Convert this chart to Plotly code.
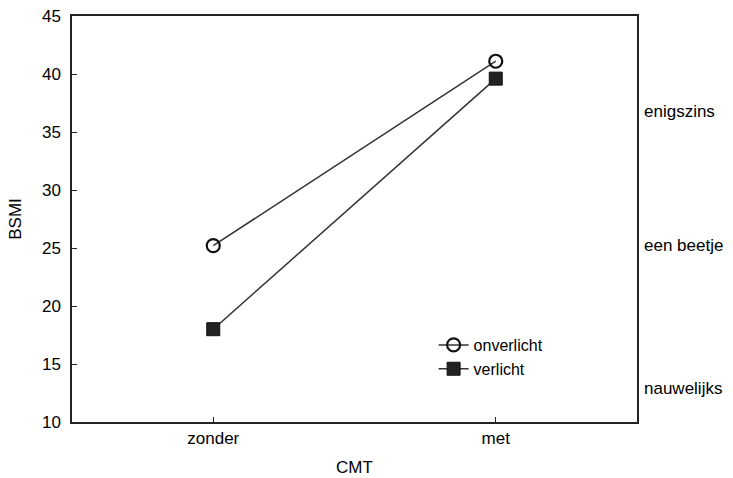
import plotly.graph_objects as go

categories = ["zonder", "met"]
onverlicht = [25.2, 41.1]
verlicht = [18.0, 39.6]
right_labels = ["enigszins", "een beetje", "nauwelijks"]
right_label_values = [36.8, 25.2, 12.9]
y_ticks = [10, 15, 20, 25, 30, 35, 40, 45]

font = dict(family="Liberation Sans, Arial, sans-serif", size=17, color="#000")
line_col = "#333333"

fig = go.Figure()
fig.add_trace(go.Scatter(
    x=categories, y=onverlicht, name="onverlicht", mode="lines+markers",
    line=dict(color=line_col, width=1.5),
    marker=dict(symbol="circle-open", size=13, color="#111", line=dict(width=2.2, color="#111")),
))
fig.add_trace(go.Scatter(
    x=categories, y=verlicht, name="verlicht", mode="lines+markers",
    line=dict(color=line_col, width=1.5),
    marker=dict(symbol="square", size=13, color="#222", line=dict(width=1, color="#111")),
))

for lab, val in zip(right_labels, right_label_values):
    fig.add_annotation(text=lab, x=1, xref="paper", xanchor="left", xshift=5,
                       y=val, yref="y", showarrow=False, font=font)

fig.update_layout(
    width=733, height=478,
    margin=dict(l=72, r=96, t=16, b=56),
    paper_bgcolor="white", plot_bgcolor="white",
    font=font,
    showlegend=True,
    legend=dict(x=0.64, y=0.16, xanchor="left", yanchor="middle",
                bgcolor="rgba(0,0,0,0)", font=dict(size=16, family=font["family"], color="#000"),
                tracegroupgap=0, itemwidth=30),
    xaxis=dict(
        type="category", range=[-0.5, 1.5], showgrid=False, zeroline=False,
        showline=True, linecolor="#222", linewidth=1.5, mirror=True,
        ticks="inside", ticklen=5, tickcolor="#222", automargin=False,
        title=dict(text="CMT", font=font, standoff=14),
    ),
    yaxis=dict(
        range=[10, 45], tickvals=y_ticks, showgrid=False, zeroline=False,
        showline=True, linecolor="#222", linewidth=1.5, mirror=True,
        ticks="inside", ticklen=5, tickcolor="#222", ticklabelstandoff=6,
        automargin=False,
        title=dict(text="BSMI", font=font, standoff=16),
    ),
)

fig.write_html("out.html")
